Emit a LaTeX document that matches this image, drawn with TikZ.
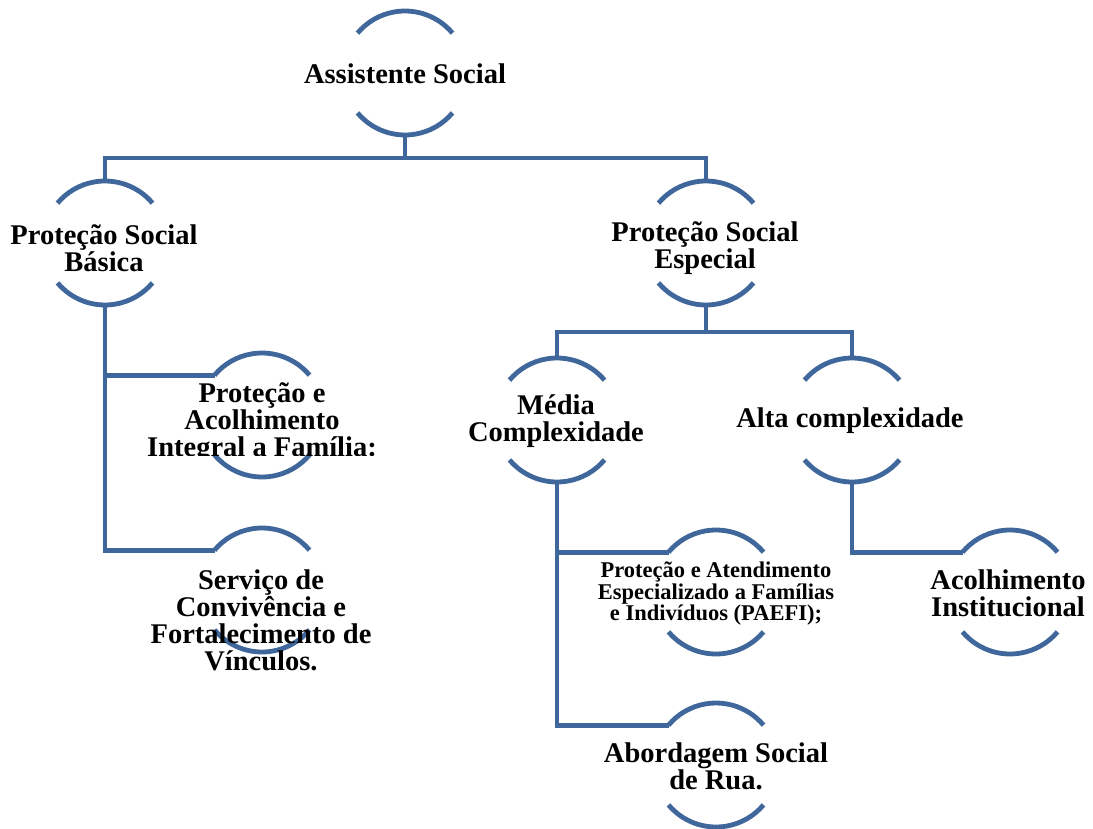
\documentclass[tikz,border=0pt]{standalone}
\usepackage{fontspec}
\setmainfont{Liberation Serif}
\definecolor{ringblue}{RGB}{64,103,155}
\tikzset{
  ringnode/.style={circle,minimum size=124pt,inner sep=0pt,outer sep=0pt,draw=none},
  ringline/.style={draw=ringblue,line width=4.8pt},
  conn/.style={draw=ringblue,line width=4.8pt},
  lbl/.style={align=center,inner sep=0pt,font=\fontsize{28.5}{27}\selectfont\bfseries},
  lblsmall/.style={align=center,inner sep=0pt,font=\fontsize{22.5}{21.5}\selectfont\bfseries}
}
\newcommand\ring[3]{%
  \node[ringnode] (#1) at (#2,-#3) {};
  \draw[ringline] (#1.40) arc[start angle=40,end angle=140,radius=62];
  \draw[ringline] (#1.220) arc[start angle=220,end angle=320,radius=62];
}
\begin{document}
\begin{tikzpicture}[x=1pt,y=1pt]
\useasboundingbox (0,0) rectangle (1093,-828);
% rings
\ring{root}{405}{73}
\ring{basica}{105}{243}
\ring{especial}{706}{243}
\ring{acolh}{262}{415}
\ring{servico}{262}{590}
\ring{media}{557}{420}
\ring{alta}{852}{420}
\ring{paefi}{716}{592}
\ring{acinst}{1010}{592}
\ring{abord}{716}{765}
\coordinate (bar1) at (405,-158);
\coordinate (bar2) at (706,-332);
% connectors
\draw[conn] (root.south) -- (root.south |- bar1);
\draw[conn] (basica.north) -- (basica.north |- bar1) -- (especial.north |- bar1) -- (especial.north);
\draw[conn] (especial.south) -- (especial.south |- bar2);
\draw[conn] (media.north) -- (media.north |- bar2) -- (alta.north |- bar2) -- (alta.north);
\draw[conn] (basica.south) -- (basica.south |- servico.140) -- (servico.140);
\draw[conn] (basica.south |- acolh.140) -- (acolh.140);
\draw[conn] (media.south) -- (media.south |- abord.140) -- (abord.140);
\draw[conn] (media.south |- paefi.140) -- (paefi.140);
\draw[conn] (alta.south) -- (alta.south |- acinst.140) -- (acinst.140);
% labels
\node[lbl] (root-t) at (405,-74) {Assistente Social};
\node[lbl] (basica-t) at (104,-248) {Proteção Social\\Básica};
\node[lbl] (especial-t) at (705,-248) {Proteção Social\\Especial};
\begin{scope}
\clip (100,-330) rectangle (430,-455);
\node[lbl] (acolh-t) at (262,-423) {Proteção e\\Acolhimento\\Integral a Família:};
\end{scope}
\node[lbl] (servico-t) at (261,-620) {Serviço de\\Convivência e\\Fortalecimento de\\Vínculos.};
\node[lbl] (media-t) at (556,-421) {Média\\Complexidade};
\node[lbl] (alta-t) at (850,-421) {Alta complexidade};
\node[lblsmall] (paefi-t) at (716,-594) {Proteção e Atendimento\\Especializado a Famílias\\e Indivíduos (PAEFI);};
\node[lbl] (acinst-t) at (1008,-593) {Acolhimento\\Institucional};
\node[lbl] (abord-t) at (716,-766) {Abordagem Social\\de Rua.};
\end{tikzpicture}
\end{document}
